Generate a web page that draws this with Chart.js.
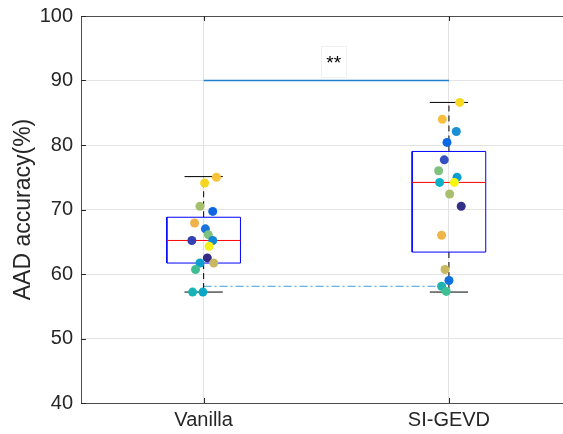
<!DOCTYPE html>
<html>
<head>
<meta charset="utf-8">
<script src="https://cdn.jsdelivr.net/npm/chart.js@4.4.0/dist/chart.umd.min.js"></script>
<style>
  html, body { margin: 0; padding: 0; overflow: hidden; background: #fff; }
  #wrap { width: 568px; height: 434px; }
</style>
</head>
<body>
<div id="wrap"><canvas id="chart"></canvas></div>
<script>
// categories and their x positions
const categories = ['Vanilla', 'SI-GEVD'];
const catPos = [1, 2];

// per-subject accuracies (%)
const vanillaValues = [75.0, 74.1, 70.5, 69.7, 67.9, 67.0, 66.1, 65.2, 65.2, 64.3, 62.5, 61.7, 61.7, 60.7, 57.2, 57.2];
const sigevdValues  = [86.6, 84.0, 82.1, 80.4, 77.7, 76.0, 75.0, 74.2, 74.2, 72.4, 70.5, 66.0, 60.7, 59.0, 58.1, 57.3];

// horizontal jitter of each dot around its category
const vanillaJitter = [0.052, 0.004, -0.015, 0.037, -0.037, 0.007, 0.019, -0.048, 0.037, 0.022, 0.015, 0.041, -0.015, -0.033, -0.045, -0.003];
const sigevdJitter  = [0.044, -0.027, 0.030, -0.008, -0.019, -0.042, 0.033, -0.038, 0.022, 0.003, 0.050, -0.030, -0.016, 0.000, -0.030, -0.011];

const vanillaColors = ['#f9c33a', '#f5d51f', '#a6bf6a', '#0f66e0', '#efb24c', '#1973db', '#7fc27c', '#3342b2',
                       '#1386d6', '#f6f01a', '#352a87', '#c8b862', '#0ea0cd', '#3fbf93', '#1ab3b3', '#0ba8c6'];
const sigevdColors  = ['#f8d923', '#f8bf3e', '#1a8fd6', '#0a68e6', '#3450c4', '#7fc17d', '#0e9fd2', '#0cb0c8',
                       '#f9f60f', '#a9bf6e', '#33308a', '#f0b548', '#c9b860', '#0f70e0', '#1fb2ae', '#3ec093'];

// box statistics: [lower whisker, q1, median, q3, upper whisker]
const vanillaBox = [57.2, 61.7, 65.2, 68.8, 75.1];
const sigevdBox  = [57.2, 63.4, 74.2, 79.0, 86.6];

// significance bar and the dash-dot reference line
const sigBarY = 90;
const sigLabel = '**';
const sigLabelPos = [1.53, 93.0];
const refLineY = 58.1;
const refLineX = [1.0, 1.97];

const yTicks = [40, 50, 60, 70, 80, 90, 100];

const boxHalf = 0.15;
const capHalf = 0.078;

function lineSet(points, color, dash, order) {
    return {
        type: 'scatter',
        data: points,
        showLine: true,
        borderColor: color,
        borderWidth: 1,
        borderDash: dash || [],
        pointRadius: 0,
        order: order
    };
}

function boxDatasets(pos, s) {
    const [lo, q1, med, q3, hi] = s;
    return [
        lineSet([{x: pos - boxHalf, y: q1}, {x: pos + boxHalf, y: q1}, {x: pos + boxHalf, y: q3},
                 {x: pos - boxHalf, y: q3}, {x: pos - boxHalf, y: q1}], '#0000ff', null, 3),
        lineSet([{x: pos - boxHalf, y: med}, {x: pos + boxHalf, y: med}], '#ff0000', null, 2),
        lineSet([{x: pos, y: q3}, {x: pos, y: hi}], '#000000', [6, 4], 3),
        lineSet([{x: pos, y: q1}, {x: pos, y: lo}], '#000000', [6, 4], 3),
        lineSet([{x: pos - capHalf, y: hi}, {x: pos + capHalf, y: hi}], '#000000', null, 3),
        lineSet([{x: pos - capHalf, y: lo}, {x: pos + capHalf, y: lo}], '#000000', null, 3)
    ];
}

function dots(pos, values, jitter, colors) {
    return {
        type: 'scatter',
        data: values.map((v, i) => ({x: pos + jitter[i], y: v})),
        backgroundColor: colors,
        borderWidth: 0,
        pointRadius: 4.5,
        order: 0
    };
}

const sigBar = lineSet([{x: catPos[0], y: sigBarY}, {x: catPos[1], y: sigBarY}], '#1f80d2', null, 4);
sigBar.borderWidth = 1.5;

const datasets = [
    dots(catPos[0], vanillaValues, vanillaJitter, vanillaColors),
    dots(catPos[1], sigevdValues, sigevdJitter, sigevdColors),
    ...boxDatasets(catPos[0], vanillaBox),
    ...boxDatasets(catPos[1], sigevdBox),
    sigBar,
    lineSet([{x: refLineX[0], y: refLineY}, {x: refLineX[1], y: refLineY}], '#3f9de0', [8, 3, 2, 3], 4)
];

// inward tick marks and the "**" label box
const extras = {
    id: 'extras',
    afterDatasetsDraw(chart) {
        const {ctx, chartArea: a, scales: {x, y}} = chart;
        ctx.save();
        ctx.strokeStyle = '#262626';
        ctx.lineWidth = 1;
        ctx.beginPath();
        catPos.forEach(p => {
            const px = Math.round(x.getPixelForValue(p)) + 0.5;
            ctx.moveTo(px, a.bottom); ctx.lineTo(px, a.bottom - 5);
            ctx.moveTo(px, a.top); ctx.lineTo(px, a.top + 5);
        });
        yTicks.forEach(t => {
            const py = Math.round(y.getPixelForValue(t)) + 0.5;
            ctx.moveTo(a.left, py); ctx.lineTo(a.left + 5, py);
        });
        ctx.stroke();

        const lx = x.getPixelForValue(sigLabelPos[0]);
        const ly = y.getPixelForValue(sigLabelPos[1]);
        ctx.strokeStyle = '#f0f0f0';
        ctx.strokeRect(Math.round(lx - 12.5) + 0.5, Math.round(ly - 15) + 0.5, 25, 31);
        ctx.fillStyle = '#000000';
        ctx.font = '19px "Liberation Sans", Arial, sans-serif';
        ctx.textAlign = 'center';
        ctx.textBaseline = 'alphabetic';
        ctx.fillText(sigLabel, lx, ly + 8);
        ctx.restore();
    }
};

new Chart(document.getElementById('chart'), {
    type: 'scatter',
    data: {datasets: datasets},
    plugins: [extras],
    options: {
        responsive: true,
        maintainAspectRatio: false,
        animation: false,
        layout: {padding: {top: 16, right: 0, bottom: 0, left: 0}},
        plugins: {legend: {display: false}, tooltip: {enabled: false}},
        scales: {
            x: {
                type: 'linear',
                min: 0.5,
                max: 2.467,
                afterBuildTicks: (scale) => { scale.ticks = catPos.map(v => ({value: v})); },
                afterFit: (scale) => {
                    scale.height = 31;
                    scale.paddingLeft = 0;
                    scale.paddingRight = 0;
                },
                ticks: {
                    callback: (v) => categories[catPos.indexOf(v)],
                    color: '#262626',
                    font: {family: '"Liberation Sans", Arial, sans-serif', size: 20},
                    padding: 5,
                    maxRotation: 0
                },
                grid: {color: '#e3e3e3', drawTicks: false},
                border: {color: '#4d4d4d', width: 1}
            },
            y: {
                min: 40,
                max: 100,
                afterBuildTicks: (scale) => { scale.ticks = yTicks.map(v => ({value: v})); },
                afterFit: (scale) => {
                    scale.width = 81;
                    scale.paddingTop = 0;
                    scale.paddingBottom = 0;
                },
                ticks: {
                    color: '#262626',
                    font: {family: '"Liberation Sans", Arial, sans-serif', size: 20},
                    padding: 8
                },
                grid: {
                    color: (c) => c.tick && c.tick.value === 100 ? '#4d4d4d' : '#e3e3e3',
                    drawTicks: false
                },
                border: {color: '#4d4d4d', width: 1},
                title: {
                    display: true,
                    text: 'AAD accuracy(%)',
                    color: '#262626',
                    font: {family: '"Liberation Sans", Arial, sans-serif', size: 23},
                    padding: {top: 10, bottom: 0}
                }
            }
        }
    }
});
</script>
</body>
</html>
